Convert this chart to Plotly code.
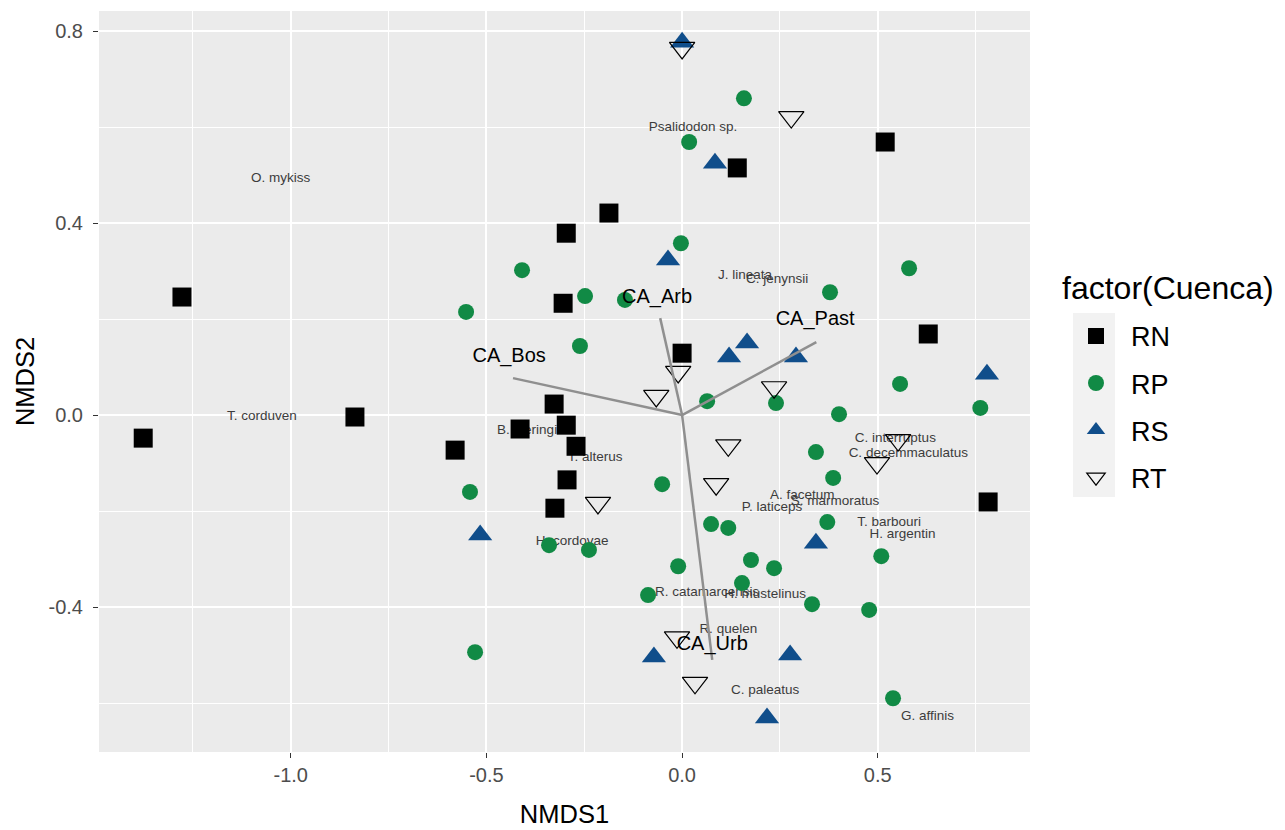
import plotly.graph_objects as go

# ---- data ----
groups = ["RN", "RP", "RS", "RT"]

rn_x = [-1.377, -1.278, -0.836, -0.580, -0.296, -0.304, -0.187, -0.327, -0.414, -0.296,
        -0.271, -0.294, -0.325, 0.000, 0.141, 0.519, 0.629, 0.782]
rn_y = [-0.048, 0.246, -0.004, -0.073, 0.379, 0.233, 0.421, 0.023, -0.029, -0.021,
        -0.065, -0.135, -0.194, 0.129, 0.515, 0.569, 0.169, -0.181]

rp_x = [0.158, 0.018, -0.003, -0.409, -0.552, -0.248, -0.146, -0.261, 0.378, 0.580,
        0.557, 0.762, 0.401, 0.240, 0.064, 0.342, 0.386, -0.542, -0.051, 0.371,
        0.074, 0.118, 0.176, 0.235, 0.509, -0.010, -0.087, 0.153, 0.332, 0.478,
        -0.340, -0.238, -0.529, 0.539]
rp_y = [0.660, 0.569, 0.358, 0.302, 0.215, 0.248, 0.240, 0.144, 0.256, 0.306,
        0.065, 0.015, 0.002, 0.025, 0.029, -0.077, -0.131, -0.160, -0.144, -0.223,
        -0.227, -0.235, -0.302, -0.319, -0.294, -0.315, -0.375, -0.350, -0.394, -0.406,
        -0.271, -0.281, -0.494, -0.590]

rs_x = [0.000, 0.084, -0.036, 0.120, 0.166, 0.291, 0.779, -0.516, 0.342, -0.072, 0.276, 0.217]
rs_y = [0.777, 0.525, 0.323, 0.121, 0.150, 0.121, 0.085, -0.250, -0.267, -0.504, -0.500, -0.631]

rt_x = [0.000, 0.279, -0.066, -0.010, 0.235, 0.118, 0.087, 0.552, 0.498, -0.215, -0.013, 0.033]
rt_y = [0.765, 0.621, 0.040, 0.090, 0.058, -0.063, -0.144, -0.052, -0.100, -0.183, -0.463, -0.558]

species = ["Psalidodon sp.", "O. mykiss", "J. lineata", "C. jenynsii", "T. corduven",
           "B. iheringi", "T. alterus", "C. interruptus", "C. decemmaculatus", "A. facetum",
           "S. marmoratus", "P. laticeps", "T. barbouri", "H. argentin", "H. cordovae",
           "R. catamarcensis", "H. mustelinus", "R. quelen", "C. paleatus", "G. affinis"]
sp_x = [0.028, -1.026, 0.161, 0.243, -1.074, -0.396, -0.222, 0.545, 0.578, 0.307,
        0.391, 0.230, 0.529, 0.563, -0.281, 0.064, 0.212, 0.118, 0.212, 0.627]
sp_y = [0.600, 0.492, 0.290, 0.283, -0.004, -0.033, -0.088, -0.050, -0.081, -0.167,
        -0.181, -0.192, -0.225, -0.250, -0.263, -0.369, -0.375, -0.446, -0.575, -0.629]

vectors = ["CA_Arb", "CA_Past", "CA_Bos", "CA_Urb"]
vec_x = [-0.056, 0.343, -0.432, 0.077]
vec_y = [0.202, 0.152, 0.077, -0.510]
vlab_x = [-0.064, 0.340, -0.442, 0.077]
vlab_y = [0.244, 0.198, 0.121, -0.479]

x_ticks = [-1.0, -0.5, 0.0, 0.5]
y_ticks = [-0.4, 0.0, 0.4, 0.8]

FONT = "Liberation Sans, Arial, sans-serif"

fig = go.Figure()

# species labels (drawn below points)
fig.add_trace(go.Scatter(x=sp_x, y=sp_y, mode="text", text=species,
                         textfont=dict(family=FONT, size=13.5, color="#3c3c3c"),
                         showlegend=False, hoverinfo="skip"))

styles = {
    "RN": dict(symbol="square", size=19, color="black", line=dict(width=0)),
    "RP": dict(symbol="circle", size=16, color="#118a45", line=dict(width=0)),
    "RS": dict(symbol="triangle-up", size=21, color="#104E8B", line=dict(width=0)),
    "RT": dict(symbol="triangle-down-open", size=22, color="black", line=dict(width=1.2, color="black")),
}
data = {"RN": (rn_x, rn_y), "RP": (rp_x, rp_y), "RS": (rs_x, rs_y), "RT": (rt_x, rt_y)}
for g in groups:
    xs, ys = data[g]
    fig.add_trace(go.Scatter(x=xs, y=ys, mode="markers", name=g, legendgroup=g,
                             marker=styles[g]))

# environmental vectors
lx, ly = [], []
for vx, vy in zip(vec_x, vec_y):
    lx += [0, vx, None]
    ly += [0, vy, None]
fig.add_trace(go.Scatter(x=lx, y=ly, mode="lines", line=dict(color="#8f8f8f", width=2.5),
                         showlegend=False, hoverinfo="skip"))
fig.add_trace(go.Scatter(x=vlab_x, y=vlab_y, mode="text", text=vectors,
                         textfont=dict(family=FONT, size=20, color="black"),
                         showlegend=False, hoverinfo="skip"))

# legend key background
fig.add_shape(type="rect", xref="paper", yref="paper", x0=1.0462, x1=1.0913, y0=0.3441, y1=0.5924,
              fillcolor="#F2F2F2", line=dict(width=0), layer="below")

# legend title
fig.add_annotation(text="factor(Cuenca)", xref="paper", yref="paper", x=1.0322, y=0.626,
                   xanchor="left", yanchor="middle", showarrow=False,
                   font=dict(family=FONT, size=32, color="black"))

fig.update_xaxes(range=[-1.490, 0.889], tickvals=x_ticks, ticktext=[f"{v:.1f}" for v in x_ticks],
                 showgrid=True, gridcolor="white", gridwidth=2, zeroline=False, automargin=False,
                 minor=dict(tickvals=[-1.25, -0.75, -0.25, 0.25, 0.75], showgrid=True,
                            gridcolor="white", gridwidth=1, ticks=""),
                 ticks="outside", ticklen=5, tickcolor="#333333", tickwidth=1,
                 tickfont=dict(family=FONT, size=20, color="#4d4d4d"),
                 title=dict(text="NMDS1", font=dict(family=FONT, size=25.5, color="black"), standoff=20))
fig.update_yaxes(range=[-0.702, 0.842], tickvals=y_ticks, ticktext=[f"{v:.1f}" for v in y_ticks],
                 showgrid=True, gridcolor="white", gridwidth=2, zeroline=False, automargin=False,
                 minor=dict(tickvals=[-0.6, -0.2, 0.2, 0.6], showgrid=True,
                            gridcolor="white", gridwidth=1, ticks=""),
                 ticks="outside", ticklen=5, tickcolor="#333333", tickwidth=1,
                 ticklabelstandoff=6,
                 tickfont=dict(family=FONT, size=20, color="#4d4d4d"),
                 title=dict(text="NMDS2", font=dict(family=FONT, size=25.5, color="black"), standoff=6))

fig.update_layout(
    width=1285, height=830,
    margin=dict(l=91, r=263, t=3, b=86, autoexpand=False),
    plot_bgcolor="#EBEBEB", paper_bgcolor="white",
    font=dict(family=FONT),
    legend=dict(x=1.0333, xanchor="left", y=0.594, yanchor="top",
                font=dict(family=FONT, size=27, color="black"),
                itemwidth=60, tracegroupgap=9, bgcolor="rgba(0,0,0,0)"),
)

fig.write_html("out.html")
